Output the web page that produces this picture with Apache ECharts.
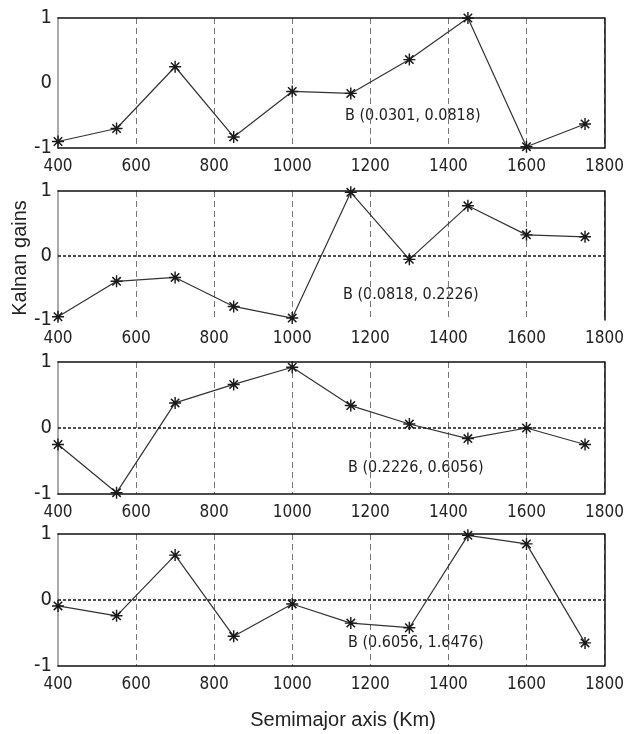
<!DOCTYPE html>
<html>
<head>
<meta charset="utf-8">
<script src="https://cdn.jsdelivr.net/npm/echarts@6/dist/echarts.min.js"></script>
<style>
html,body{margin:0;padding:0;background:#fff;}
#chart{width:627px;height:734px;}
</style>
</head>
<body>
<div id="chart"></div>
<script>
const semimajor = [400, 550, 700, 850, 1000, 1150, 1300, 1450, 1600, 1750];
const gains1 = [-0.90, -0.70, 0.25, -0.83, -0.13, -0.16, 0.36, 1.00, -0.98, -0.63];
const gains2 = [-0.95, -0.40, -0.34, -0.79, -0.97, 0.98, -0.06, 0.77, 0.32, 0.29];
const gains3 = [-0.25, -0.98, 0.38, 0.66, 0.92, 0.34, 0.06, -0.16, 0.00, -0.25];
const gains4 = [-0.09, -0.24, 0.68, -0.55, -0.06, -0.35, -0.42, 0.98, 0.85, -0.65];
const panelLabels = ['B (0.0301, 0.0818)', 'B (0.0818, 0.2226)', 'B (0.2226, 0.6056)', 'B (0.6056, 1.6476)'];
const xTicks = [400, 600, 800, 1000, 1200, 1400, 1600, 1800];
const yTicks = [-1, 0, 1];
const yTitle = 'Kalnan gains';
const xTitle = 'Semimajor axis (Km)';

const allGains = [gains1, gains2, gains3, gains4];
const gridTops = [18, 191, 362, 534];
const gridHeights = [130, 129, 132, 132];
const showZero = [false, true, true, true];
const showBottom = [true, false, true, true];
const labelPos = [[345, 118], [343, 297], [348, 470], [348, 645]];

const narrow = '"DejaVu Sans Condensed", "Liberation Sans", Arial, sans-serif';
const regular = '"Liberation Sans", Arial, sans-serif';

const star = 'path://M-1.2,-10 L1.2,-10 L1.2,10 L-1.2,10 Z M-10,-1.2 L10,-1.2 L10,1.2 L-10,1.2 Z M-6.1,-7.9 L7.9,6.1 L6.1,7.9 L-7.9,-6.1 Z M6.1,-7.9 L7.9,-6.1 L-6.1,7.9 L-7.9,6.1 Z';

const grids = [], xAxes = [], yAxes = [], series = [], graphics = [];
allGains.forEach((g, i) => {
  grids.push({left: 58, right: 17, top: gridTops[i], height: gridHeights[i], show: false});
  xAxes.push({
    type: 'value', gridIndex: i, min: xTicks[0], max: xTicks[xTicks.length - 1], interval: 200,
    position: 'bottom',
    axisLine: {show: showBottom[i], onZero: false, lineStyle: {color: '#111', width: 1.5}},
    axisTick: {show: false},
    axisLabel: {fontFamily: narrow, fontSize: 17, color: '#222', margin: 10,
      formatter: v => xTicks.includes(v) ? String(v) : ''},
    splitLine: {show: true, lineStyle: {color: '#777', type: [6, 4], width: 1}}
  });
  xAxes.push({
    type: 'value', gridIndex: i, min: xTicks[0], max: xTicks[xTicks.length - 1], interval: 200,
    position: 'top',
    axisLine: {show: true, onZero: false, lineStyle: {color: '#111', width: 1.5}},
    axisTick: {show: false}, axisLabel: {show: false}, splitLine: {show: false}
  });
  yAxes.push({
    type: 'value', gridIndex: i, min: -1, max: 1, interval: 1, position: 'left',
    axisLine: {show: true, onZero: false, lineStyle: {color: '#aaa', width: 2}},
    axisTick: {show: false},
    axisLabel: {fontFamily: narrow, fontSize: 20, color: '#222', margin: 6,
      formatter: v => yTicks.includes(v) ? String(v) : ''},
    splitLine: {show: false}
  });
  yAxes.push({
    type: 'value', gridIndex: i, min: -1, max: 1, interval: 1, position: 'right',
    axisLine: {show: true, onZero: false, lineStyle: {color: '#111', width: 1.5}},
    axisTick: {show: false}, axisLabel: {show: false}, splitLine: {show: false}
  });
  series.push({
    type: 'line', xAxisIndex: 2 * i, yAxisIndex: 2 * i,
    data: semimajor.map((x, k) => [x, g[k]]),
    symbol: star, symbolSize: 12,
    itemStyle: {color: '#1a1a1a'},
    lineStyle: {color: '#333', width: 1.2},
    animation: false,
    markLine: showZero[i] ? {
      silent: true, symbol: 'none', label: {show: false},
      lineStyle: {color: '#111', type: [3, 2], width: 1.5},
      data: [{yAxis: 0}]
    } : undefined
  });
  graphics.push({
    type: 'text', left: labelPos[i][0], top: labelPos[i][1] - 10,
    style: {text: panelLabels[i], font: '16px ' + narrow, fill: '#222'}
  });
});

graphics.push({
  type: 'text', rotation: Math.PI / 2, x: 20, y: 258,
  style: {text: yTitle, font: '20px ' + regular, fill: '#222', textAlign: 'center', textVerticalAlign: 'middle'}
});
graphics.push({
  type: 'text', x: 343, y: 720,
  style: {text: xTitle, font: '20px ' + regular, fill: '#222', textAlign: 'center', textVerticalAlign: 'middle'}
});

const chart = echarts.init(document.getElementById('chart'));
chart.setOption({
  animation: false,
  backgroundColor: '#fff',
  grid: grids, xAxis: xAxes, yAxis: yAxes, series: series, graphic: graphics
});
</script>
</body>
</html>
